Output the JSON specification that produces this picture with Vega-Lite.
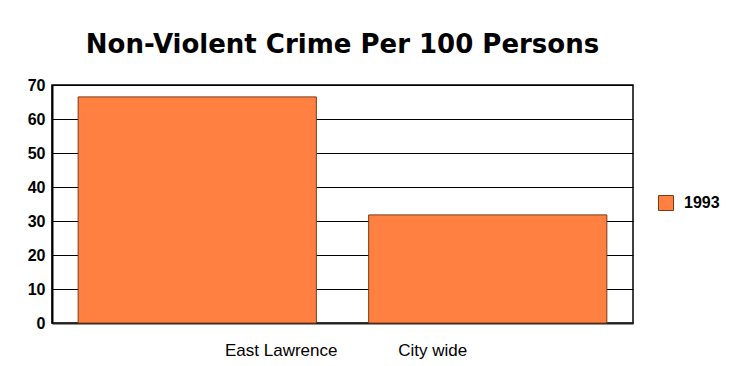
{
  "$schema": "https://vega.github.io/schema/vega-lite/v6.json",
  "autosize": {"type": "none"},
  "padding": {"left": 52, "top": 85, "right": 98, "bottom": 43},
  "width": 581,
  "height": 238,
  "background": "white",
  "title": {
    "text": "Non-Violent Crime Per 100 Persons",
    "font": "Comic Sans MS, DejaVu Sans",
    "fontSize": 26,
    "fontWeight": "bold",
    "color": "black",
    "anchor": "middle",
    "offset": 19
  },
  "data": {
    "values": [
      {"area": "East Lawrence", "year": "1993", "rate": 66.5},
      {"area": "City wide", "year": "1993", "rate": 31.8}
    ]
  },
  "mark": {"type": "bar", "stroke": "#7a3a12", "strokeWidth": 1},
  "encoding": {
    "x": {
      "field": "area",
      "type": "nominal",
      "sort": null,
      "scale": {"paddingInner": 0.18, "paddingOuter": 0.09},
      "axis": {
        "title": null,
        "labelAngle": 0,
        "ticks": false,
        "labelFont": "Liberation Sans",
        "labelFontSize": 17,
        "labelColor": "black",
        "labelPadding": 19,
        "labelOffset": {"condition": {"test": "datum.value === 'East Lawrence'", "value": 84}, "value": -55},
        "domainColor": "#222",
        "domainWidth": 2
      }
    },
    "y": {
      "field": "rate",
      "type": "quantitative",
      "scale": {"domain": [0, 70]},
      "axis": {
        "title": null,
        "values": [0, 10, 20, 30, 40, 50, 60, 70],
        "ticks": false,
        "labelFont": "Liberation Sans",
        "labelFontSize": 16,
        "labelFontWeight": "bold",
        "labelColor": "black",
        "labelPadding": 7,
        "domainColor": "black",
        "domainWidth": 2,
        "grid": true,
        "gridColor": "black",
        "gridWidth": 1,
        "gridOpacity": 1
      }
    },
    "color": {
      "field": "year",
      "type": "nominal",
      "scale": {"range": ["#ff8040"]},
      "legend": {
        "title": null,
        "orient": "none",
        "legendX": 606,
        "legendY": 110,
        "symbolType": "square",
        "symbolSize": 225,
        "symbolStrokeColor": "#7a3a12",
        "symbolStrokeWidth": 1,
        "symbolOpacity": 1,
        "labelFont": "Liberation Sans",
        "labelFontSize": 16,
        "labelFontWeight": "bold",
        "labelColor": "black",
        "labelOffset": 10
      }
    }
  },
  "config": {
    "view": {"stroke": "black", "strokeWidth": 1.5}
  }
}
